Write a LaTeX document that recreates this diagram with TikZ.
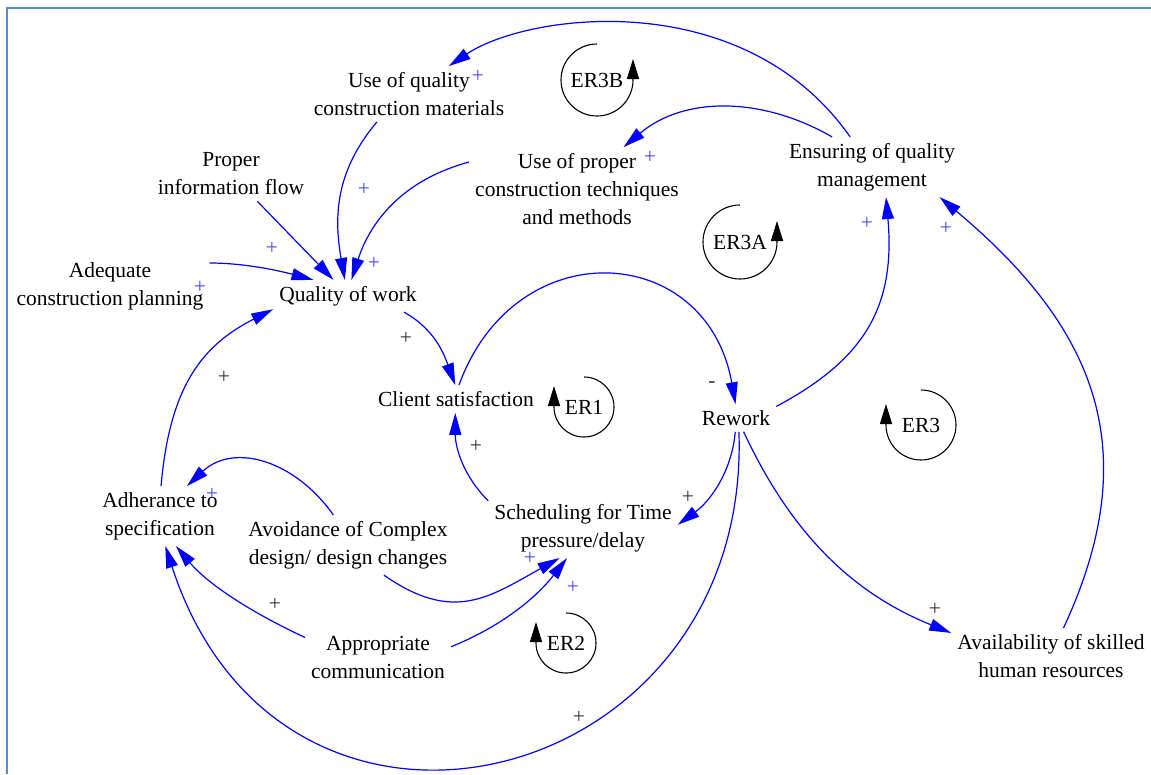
\documentclass[tikz,border=0pt]{standalone}
\usepackage{fontspec}
\setmainfont{Liberation Serif}
\usetikzlibrary{arrows.meta}
\definecolor{linkblue}{HTML}{0000FF}
\definecolor{plusblue}{HTML}{4646FF}
\definecolor{plusgray}{HTML}{333333}
\definecolor{frameblue}{HTML}{5B8BC8}

\begin{document}
\begin{tikzpicture}[x=1pt, y=1pt,
    every node/.style={font=\fontsize{21.5}{28}\selectfont},
    var/.style={align=center, inner sep=6pt},
    link/.style={draw=linkblue, line width=1.2pt, -{Triangle[length=22pt,width=12pt]}},
    polb/.style={text=plusblue, inner sep=0pt},
    polk/.style={text=plusgray, inner sep=0pt},
    looparc/.style={draw=black, line width=1.1pt, -{Triangle[length=20pt,width=12pt]}},
    looplabel/.style={inner sep=0pt}
]
\useasboundingbox (0,0) rectangle (1151,-774);
\draw[frameblue, line width=2.5pt] (7,-774) -- (7,-8) -- (1151,-8);

% Variables
\node[var] (usemat) at (409,-94) {Use of quality\\construction materials};
\node[var] (info) at (231,-174) {Proper\\information flow};
\node[var] (adeq) at (110,-286) {Adequate\\construction planning};
\node[var] (qual) at (348,-296) {Quality of work};
\node[var] (proper) at (577,-189) {Use of proper\\construction techniques\\and methods};
\node[var] (ensure) at (872,-167) {Ensuring of quality\\management};
\node[var] (client) at (456,-399) {Client satisfaction};
\node[var] (rework) at (736,-418) {Rework};
\node[var] (sched) at (583,-528) {Scheduling for Time\\pressure/delay};
\node[var] (adher) at (160,-516) {Adherance to\\specification};
\node[var] (avoid) at (348,-545) {Avoidance of Complex\\design/ design changes};
\node[var] (approp) at (378,-657) {Appropriate\\communication};
\node[var] (avail) at (1051,-656) {Availability of skilled\\human resources};

% Loops
\node[looplabel] (er3b) at (597,-80) {ER3B};
\node[looplabel] (er3a) at (740,-242) {ER3A};
\node[looplabel] (er1) at (584,-407) {ER1};
\node[looplabel] (er2) at (566,-643) {ER2};
\node[looplabel] (er3) at (921,-425) {ER3};
\draw[looparc] ([yshift=36pt]er3b.center) arc[start angle=90, end angle=360, radius=36pt] -- ++(0,21);
\draw[looparc] ([yshift=37pt]er3a.center) arc[start angle=90, end angle=360, radius=37pt] -- ++(0,21);
\draw[looparc] ([yshift=30pt]er1.center) arc[start angle=90, end angle=-180, radius=30pt] -- ++(0,21);
\draw[looparc] ([yshift=30pt]er2.center) arc[start angle=90, end angle=-180, radius=30pt] -- ++(0,21);
\draw[looparc] ([yshift=35pt]er3.center) arc[start angle=90, end angle=-180, radius=35pt] -- ++(0,21);

% Links
\draw[link] (ensure.126) .. controls +(125:186) and +(34:95) .. (usemat.35);
\draw[link] (ensure.143) .. controls +(150:80) and +(40:80) .. (proper.42);
\draw[link] (rework.16) .. controls +(28:100) and +(-85:110) .. (ensure.-65);
\draw[link] (avail.66) .. controls +(65:200) and +(-40:200) .. (ensure.-24);
\draw[link] (rework.-61) .. controls +(-65:120) and +(158:100) .. (avail.167);
\draw[link] (rework.-93) .. controls +(-95:40) and +(36:40) .. (sched.2);
\draw[link] (rework.-78) .. controls +(-88:360) and +(-72:380) .. (adher.-80);
\draw[link] (client.78) .. controls +(70:165) and +(100:165) .. (rework.92);
\draw[link] (qual.-16) .. controls +(-30:35) and +(110:35) .. (client.93);
\draw[link] (sched.164) .. controls +(135:35) and +(-90:35) .. (client.-93);
\draw[link] (adher.88) .. controls +(85:100) and +(207:80) .. (qual.190);
\draw[link] (avoid.116) .. controls +(125:65) and +(43:65) .. (adher.48);
\draw[link] (avoid.-40) .. controls +(-35:85) and +(209:80) .. (sched.-128);
\draw[link] (approp.8) .. controls +(22:55) and +(232:50) .. (sched.-118);
\draw[link] (approp.165) .. controls +(155:60) and +(-50:50) .. (adher.-62);
\draw[link] (info.-46) -- (qual.132);
\draw[link] (adeq.13) .. controls +(0:35) and +(165:35) .. (qual.155);
\draw[link] (usemat.-139) .. controls +(230:60) and +(100:70) .. (qual.101);
\draw[link] (proper.166) .. controls +(195:65) and +(72:65) .. (qual.78);

% Polarities
\node[polb] (pmat) at (478,-76) {+};
\node[polb] (pproper) at (650,-157) {+};
\node[polb] (pmatq) at (364,-189) {+};
\node[polb] (pproperq) at (374,-263) {+};
\node[polb] (pinfo) at (272,-248) {+};
\node[polb] (padeq) at (200,-287) {+};
\node[polb] (pensure) at (867,-223) {+};
\node[polb] (pavailq) at (946,-228) {+};
\node[polb] (pavoid) at (212,-494) {+};
\node[polb] (pavoids) at (530,-558) {+};
\node[polb] (pcomm) at (573,-587) {+};
\node[polk] (pqual) at (406,-338) {+};
\node[polk] (psched) at (476,-446) {+};
\node[polk] (prework) at (712,-385) {-};
\node[polk] (preworks) at (688,-497) {+};
\node[polk] (padher) at (224,-377) {+};
\node[polk] (pcomma) at (275,-604) {+};
\node[polk] (preworka) at (579,-717) {+};
\node[polk] (pavail) at (935,-609) {+};
\end{tikzpicture}
\end{document}
